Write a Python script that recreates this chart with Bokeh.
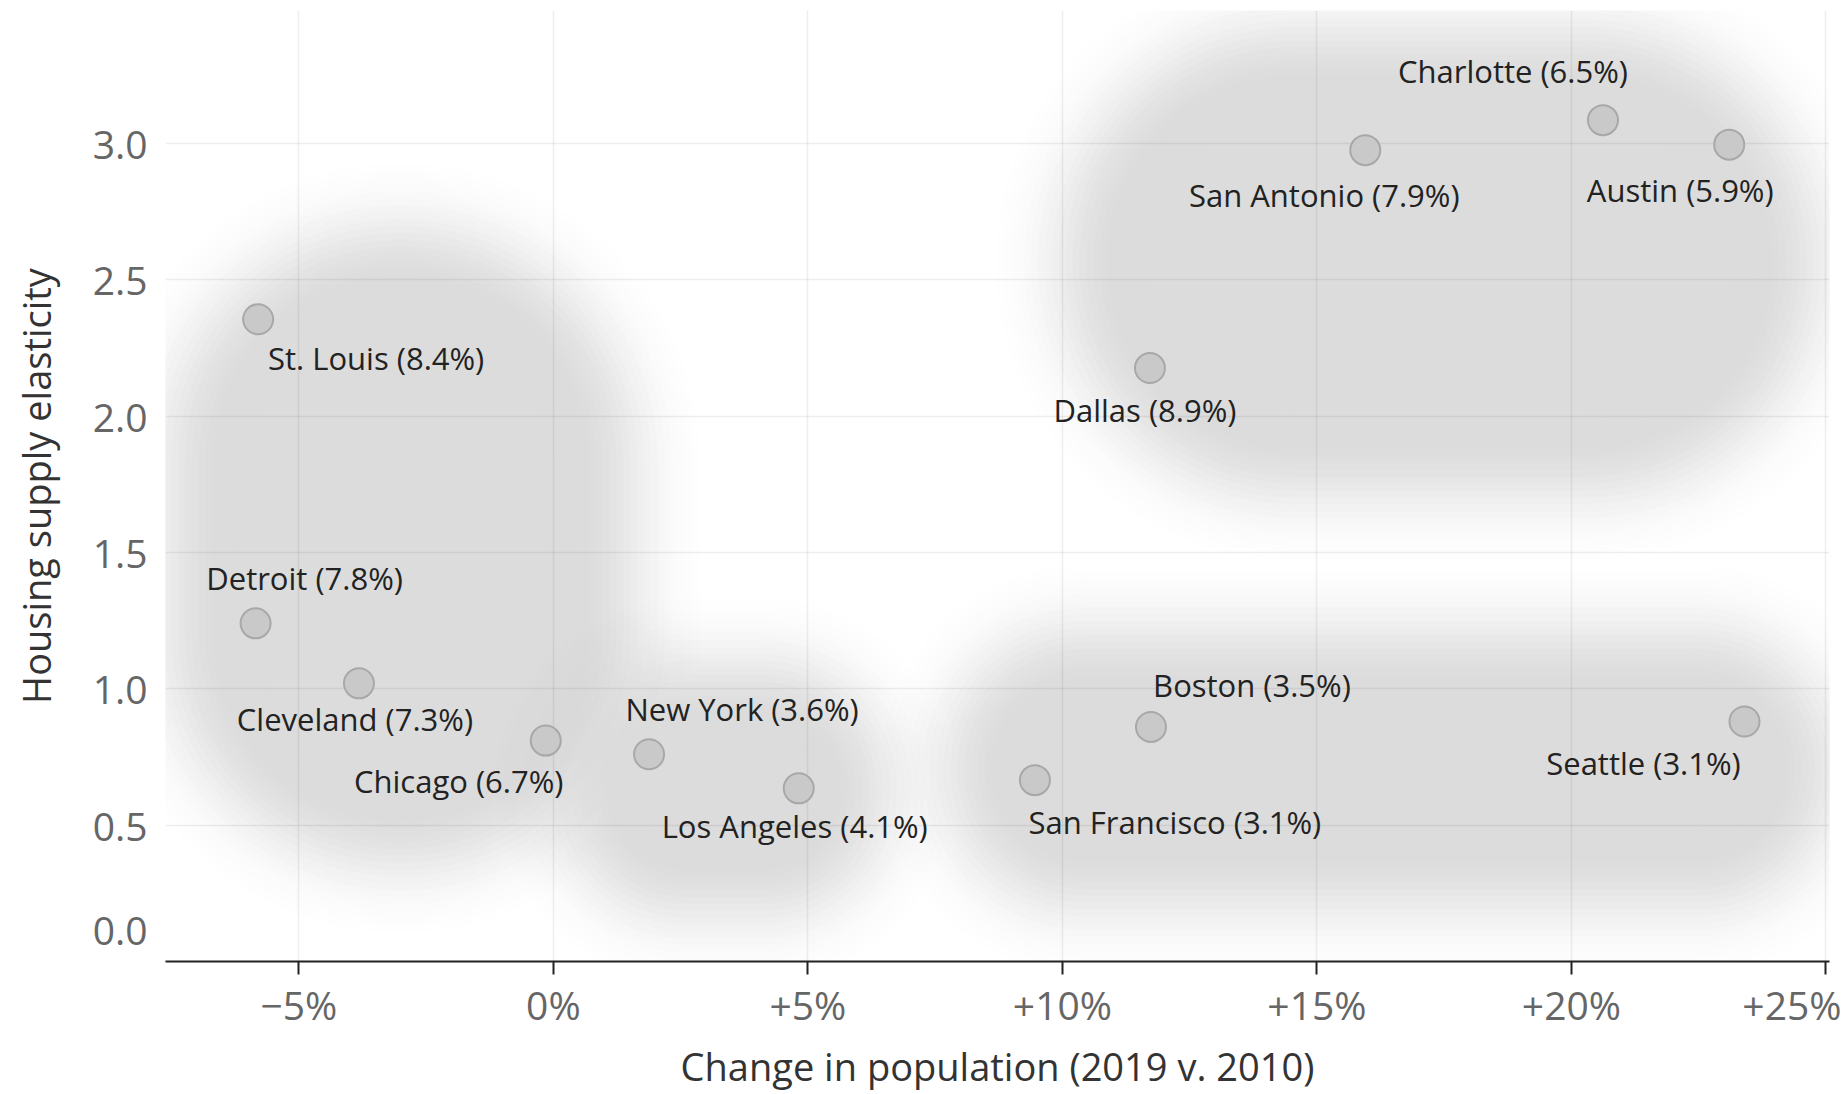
import numpy as np
from math import erf, sqrt
from bokeh.plotting import figure
from bokeh.models import ColumnDataSource, FixedTicker, Range1d
from bokeh.embed import file_html
from bokeh.resources import INLINE
from bokeh.core.properties import value

# ---------------- data ----------------
names = ["St. Louis", "Detroit", "Cleveland", "Chicago", "New York", "Los Angeles",
         "San Francisco", "Boston", "Seattle", "Dallas", "San Antonio", "Charlotte", "Austin"]
pop_change = [-5.80, -5.85, -3.82, -0.15, 1.88, 4.82, 9.46, 11.74, 23.40, 11.72, 15.95, 20.62, 23.10]
elasticity = [2.355, 1.24, 1.02, 0.81, 0.76, 0.635, 0.665, 0.86, 0.88, 2.176, 2.975, 3.085, 2.995]
housing_share = [8.4, 7.8, 7.3, 6.7, 3.6, 4.1, 3.1, 3.5, 3.1, 8.9, 7.9, 6.5, 5.9]
cluster_id = [0, 0, 0, 0, 1, 1, 2, 2, 2, 3, 3, 3, 3]

x_ticks = [-5, 0, 5, 10, 15, 20, 25]
x_tick_labels = ["\u22125%", "0%", "+5%", "+10%", "+15%", "+20%", "+25%"]
y_ticks = [0.0, 0.5, 1.0, 1.5, 2.0, 2.5, 3.0]
y_tick_labels = ["0.0", "0.5", "1.0", "1.5", "2.0", "2.5", "3.0"]

x_title = "Change in population (2019 v. 2010)"
y_title = "Housing supply elasticity"

# ---------------- layout / style ----------------
label_dx = [118, 49, -4, -87, 93, -4, 140, 101, -101, -5, -41, -90, -49]
label_dy = [39, -45, 36, 40, -45, 38, 42, -42, 41, 42, 45, -49, 45]

W, H = 1841, 1094
ML, MR, MT, MB = 165, 12, 10, 132
FW, FH = W - ML - MR, H - MT - MB
X0, X1 = -7.62, 25.07
Y0, Y1 = 0.0, 3.487
kx = FW / (X1 - X0)
ky = FH / (Y1 - Y0)

FONT = "Open Sans"
BLOB = "#dbdbdb"

p = figure(width=W, height=H, x_range=Range1d(X0, X1), y_range=Range1d(Y0, Y1),
           output_backend="svg", toolbar_location=None,
           min_border_left=ML, min_border_right=MR, min_border_top=MT, min_border_bottom=MB)
p.outline_line_color = None
p.background_fill_color = "white"
p.border_fill_color = "white"

# ---------------- blurred cluster regions ----------------
PADX, PADY, SHIFT, SIGMA, K = 88, 108, 18, 36, 26
offs = np.linspace(2.4 * SIGMA, -2.4 * SIGMA, K)
step = offs[0] - offs[1]
def Phi(z):
    return 0.5 * (1 + erf(z / sqrt(2)))
CMAX = 0.985
C = []
for m in range(K):
    if m < K - 1:
        t = -(offs[m] + offs[m + 1]) / 2
    else:
        t = -offs[m] + step / 2
    C.append(CMAX * Phi(t / SIGMA))
alphas = []
prev = 0.0
for c in C:
    alphas.append(1 - (1 - c) / (1 - prev))
    prev = c

def rounded_rect(cx, cy, hw, hh, r, n=22):
    pts = []
    corners = [(hw - r, hh - r, 0), (-(hw - r), hh - r, 90), (-(hw - r), -(hh - r), 180), (hw - r, -(hh - r), 270)]
    for (ox, oy, a0) in corners:
        for a in np.linspace(np.radians(a0), np.radians(a0 + 90), n):
            pts.append((cx + ox + r * np.cos(a), cy + oy + r * np.sin(a)))
    return pts

bx, by, ba = [], [], []
px_all = [(x - X0) * kx for x in pop_change]
py_all = [(y - Y0) * ky for y in elasticity]
for cid in sorted(set(cluster_id)):
    idx = [i for i, c in enumerate(cluster_id) if c == cid]
    xs = [px_all[i] for i in idx]
    ys = [py_all[i] for i in idx]
    cx, cy = (min(xs) + max(xs)) / 2, (min(ys) + max(ys)) / 2 - SHIFT
    hw, hh = (max(xs) - min(xs)) / 2 + PADX, (max(ys) - min(ys)) / 2 + PADY
    r0 = min(hw, hh)
    for d, a in zip(offs, alphas):
        r = max(min(r0 + d, hw + d, hh + d), 2)
        pts = rounded_rect(cx, cy, hw + d, hh + d, r)
        bx.append([X0 + q[0] / kx for q in pts])
        by.append([Y0 + q[1] / ky for q in pts])
        ba.append(a)

p.patches(xs="xs", ys="ys", source=ColumnDataSource(dict(xs=bx, ys=by, a=ba)),
          fill_color=BLOB, fill_alpha="a", line_color=None, level="image")

# ---------------- points & labels ----------------
labels = [f"{n} ({s}%)" for n, s in zip(names, housing_share)]
src = ColumnDataSource(dict(x=pop_change, y=elasticity, t=labels, dx=label_dx, dy=label_dy))
p.scatter("x", "y", source=src, size=30, fill_color="#c9c9c9", line_color="#a8a8a8", line_width=2)
p.text("x", "y", text="t", source=src, x_offset="dx", y_offset="dy",
       text_align="center", text_baseline="middle", text_font=value(FONT),
       text_font_size="31px", text_color="#222222")

# ---------------- grid ----------------
p.xgrid.ticker = FixedTicker(ticks=x_ticks)
p.ygrid.ticker = FixedTicker(ticks=y_ticks)
for g in (p.xgrid, p.ygrid):
    g.grid_line_color = "black"
    g.grid_line_alpha = 0.065
    g.grid_line_width = 1.5

# ---------------- axes ----------------
xa = p.xaxis[0]
xa.ticker = FixedTicker(ticks=x_ticks)
xa.major_label_overrides = dict(zip(x_ticks, x_tick_labels))
xa.axis_line_color = "#222222"
xa.axis_line_width = 2
xa.major_tick_line_color = "#222222"
xa.major_tick_line_width = 2
xa.major_tick_out = 13
xa.major_tick_in = 0
xa.minor_tick_line_color = None
xa.major_label_standoff = 3
xa.major_label_text_font = FONT
xa.major_label_text_font_size = "39px"
xa.major_label_text_color = "#666666"
xa.axis_label = x_title
xa.axis_label_text_font = FONT
xa.axis_label_text_font_size = "38px"
xa.axis_label_text_font_style = "normal"
xa.axis_label_text_color = "#333333"
xa.axis_label_standoff = 6

ya = p.yaxis[0]
ya.ticker = FixedTicker(ticks=y_ticks)
ov = dict(zip(y_ticks, y_tick_labels))
ov[y_ticks[0]] = y_tick_labels[0] + "\n"   # keep the bottom label flush inside the plot
ya.major_label_overrides = ov
ya.axis_line_color = None
ya.major_tick_line_color = None
ya.minor_tick_line_color = None
ya.major_tick_out = 0
ya.major_tick_in = 0
ya.major_label_standoff = 18
ya.major_label_text_font = FONT
ya.major_label_text_font_size = "39px"
ya.major_label_text_color = "#666666"
ya.axis_label = y_title
ya.axis_label_text_font = FONT
ya.axis_label_text_font_size = "38px"
ya.axis_label_text_font_style = "normal"
ya.axis_label_text_color = "#333333"
ya.axis_label_standoff = 28

open("out.html", "w").write(file_html(p, INLINE))
